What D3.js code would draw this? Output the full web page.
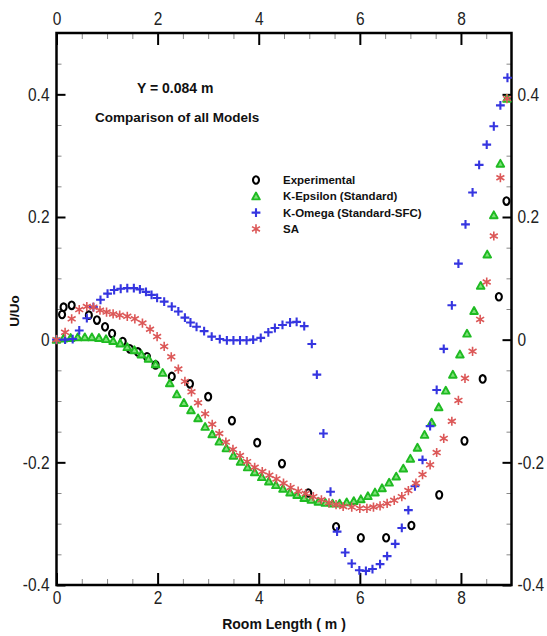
<!DOCTYPE html>
<html>
<head>
<meta charset="utf-8">
<script src="https://cdn.jsdelivr.net/npm/d3@7"></script>
<style>
  body { margin: 0; background: #fff; }
  svg { display: block; }
</style>
</head>
<body>
<svg id="chart" width="547" height="636"></svg>
<script>
// Measured profile (circles)
const expX = [0.11, 0.14, 0.30, 0.64, 0.80, 0.96, 1.10, 1.31, 1.45, 1.61, 1.79, 1.96, 2.28, 2.64, 3.00, 3.47, 3.97, 4.46, 4.98, 5.53, 6.02, 6.52, 7.02, 7.57, 8.07, 8.43, 8.75, 8.90];
const expY = [0.041, 0.053, 0.056, 0.040, 0.032, 0.021, 0.010, -0.003, -0.015, -0.020, -0.028, -0.041, -0.060, -0.072, -0.093, -0.132, -0.168, -0.202, -0.250, -0.305, -0.323, -0.323, -0.303, -0.253, -0.165, -0.064, 0.070, 0.226];

// K-Epsilon (Standard)
const keX = [0.00, 0.14, 0.28, 0.42, 0.56, 0.70, 0.84, 0.98, 1.12, 1.26, 1.40, 1.54, 1.68, 1.82, 1.96, 2.10, 2.24, 2.38, 2.52, 2.66, 2.80, 2.94, 3.08, 3.22, 3.36, 3.50, 3.64, 3.78, 3.92, 4.06, 4.20, 4.34, 4.48, 4.62, 4.76, 4.90, 5.04, 5.18, 5.32, 5.46, 5.60, 5.74, 5.88, 6.02, 6.16, 6.30, 6.44, 6.58, 6.72, 6.86, 7.00, 7.14, 7.28, 7.42, 7.56, 7.70, 7.84, 7.98, 8.12, 8.26, 8.39, 8.52, 8.65, 8.78, 8.91];
const keY = [0.000, 0.002, 0.003, 0.004, 0.004, 0.004, 0.003, 0.001, -0.002, -0.006, -0.012, -0.017, -0.024, -0.031, -0.040, -0.054, -0.071, -0.089, -0.103, -0.115, -0.128, -0.142, -0.154, -0.166, -0.177, -0.189, -0.199, -0.208, -0.216, -0.224, -0.231, -0.237, -0.243, -0.249, -0.253, -0.258, -0.261, -0.264, -0.266, -0.267, -0.267, -0.265, -0.263, -0.260, -0.255, -0.249, -0.242, -0.233, -0.223, -0.210, -0.194, -0.176, -0.155, -0.135, -0.110, -0.083, -0.057, -0.024, 0.010, 0.047, 0.088, 0.139, 0.203, 0.287, 0.393];

// K-Omega (Standard-SFC)
const kwX = [0.00, 0.17, 0.32, 0.45, 0.60, 0.73, 0.87, 1.01, 1.14, 1.27, 1.40, 1.53, 1.65, 1.77, 1.88, 1.99, 2.13, 2.28, 2.41, 2.54, 2.65, 2.77, 2.92, 3.07, 3.23, 3.37, 3.50, 3.63, 3.76, 3.89, 4.04, 4.19, 4.32, 4.47, 4.62, 4.75, 4.90, 5.05, 5.15, 5.28, 5.42, 5.55, 5.71, 5.84, 5.99, 6.12, 6.25, 6.40, 6.54, 6.70, 6.83, 6.96, 7.09, 7.24, 7.39, 7.52, 7.66, 7.82, 7.95, 8.09, 8.23, 8.36, 8.51, 8.65, 8.78, 8.92];
const kwY = [0.000, 0.000, 0.001, 0.015, 0.035, 0.053, 0.065, 0.075, 0.081, 0.083, 0.084, 0.084, 0.082, 0.078, 0.073, 0.068, 0.062, 0.054, 0.046, 0.036, 0.028, 0.021, 0.014, 0.005, 0.001, -0.001, -0.001, -0.001, -0.001, 0.000, 0.003, 0.012, 0.019, 0.024, 0.028, 0.029, 0.022, -0.007, -0.057, -0.153, -0.248, -0.313, -0.347, -0.365, -0.376, -0.377, -0.374, -0.366, -0.353, -0.333, -0.307, -0.278, -0.239, -0.196, -0.141, -0.082, -0.015, 0.056, 0.124, 0.188, 0.240, 0.285, 0.318, 0.348, 0.382, 0.427];

// SA
const saX = [0.00, 0.17, 0.30, 0.45, 0.60, 0.73, 0.86, 0.99, 1.12, 1.25, 1.40, 1.55, 1.70, 1.85, 1.99, 2.13, 2.27, 2.41, 2.54, 2.67, 2.80, 2.94, 3.08, 3.22, 3.35, 3.49, 3.63, 3.77, 3.92, 4.07, 4.21, 4.35, 4.49, 4.63, 4.78, 4.93, 5.08, 5.24, 5.39, 5.53, 5.67, 5.84, 6.00, 6.14, 6.27, 6.40, 6.54, 6.68, 6.83, 6.96, 7.11, 7.24, 7.39, 7.52, 7.66, 7.82, 7.95, 8.08, 8.23, 8.38, 8.51, 8.65, 8.78, 8.91];
const saY = [0.000, 0.012, 0.034, 0.049, 0.054, 0.053, 0.048, 0.045, 0.042, 0.040, 0.038, 0.034, 0.027, 0.017, 0.005, -0.011, -0.028, -0.048, -0.068, -0.085, -0.103, -0.121, -0.138, -0.153, -0.167, -0.179, -0.189, -0.199, -0.208, -0.215, -0.221, -0.227, -0.234, -0.241, -0.247, -0.251, -0.256, -0.261, -0.266, -0.269, -0.272, -0.273, -0.275, -0.275, -0.273, -0.271, -0.267, -0.262, -0.256, -0.246, -0.234, -0.220, -0.204, -0.184, -0.161, -0.133, -0.099, -0.063, -0.019, 0.033, 0.094, 0.169, 0.264, 0.393];

const xMajor = [0, 2, 4, 6, 8];
const xMinor = [0.5, 1, 1.5, 2.5, 3, 3.5, 4.5, 5, 5.5, 6.5, 7, 7.5, 8.5];
const yMajor = [-0.4, -0.2, 0, 0.2, 0.4];
const yMinor = [-0.35, -0.3, -0.25, -0.15, -0.1, -0.05, 0.05, 0.1, 0.15, 0.25, 0.3, 0.35, 0.45];

const seriesNames = ["Experimental", "K-Epsilon (Standard)", "K-Omega (Standard-SFC)", "SA"];
const titleLines = ["Y = 0.084 m", "Comparison of all Models"];
const xTitle = "Room Length ( m )";
const yTitle = "U/Uo";

const svg = d3.select("#chart");
const x = d3.scaleLinear().domain([0, 9]).range([56.5, 511.5]);
const y = d3.scaleLinear().domain([-0.4, 0.5]).range([585, 33]);
const [x0, x1] = x.range();
const [yb, yt] = y.range();

const tickFont = "'Liberation Sans', Arial, sans-serif";
const boldFont = "'Liberation Sans', Arial, sans-serif";
const squeeze = 0.86; // tick labels are set in a narrow face

// ---- markers ----
const markers = {
  circle: g => g.append("ellipse").attr("rx", 3).attr("ry", 3.8)
      .attr("fill", "none").attr("stroke", "#000").attr("stroke-width", 2.1),
  triangle: g => g.append("path").attr("d", "M0,-3.8L3.8,3.1L-3.8,3.1Z")
      .attr("fill", "#7fe07a").attr("stroke", "#1fbb22").attr("stroke-width", 1.9)
      .attr("stroke-linejoin", "round"),
  plus: g => g.append("path").attr("d", "M-4.4,0H4.4M0,-4.4V4.4")
      .attr("stroke", "#3535e0").attr("stroke-width", 2.1).attr("fill", "none"),
  asterisk: g => g.append("path")
      .attr("d", (() => {
        const r = 4.6; let d = "";
        [90, 30, 150].forEach(a => {
          const t = a * Math.PI / 180, c = Math.cos(t) * r, s = Math.sin(t) * r;
          d += `M${-c},${s}L${c},${-s}`;
        });
        return d;
      })())
      .attr("stroke", "#dc5858").attr("stroke-width", 1.6).attr("fill", "none")
};

const series = [
  { xs: expX, ys: expY, mark: "circle" },
  { xs: keX, ys: keY, mark: "triangle" },
  { xs: kwX, ys: kwY, mark: "plus" },
  { xs: saX, ys: saY, mark: "asterisk" }
];

// ---- axes ----
function styleAxis(g) {
  g.select(".domain").remove();
  g.selectAll(".tick line").attr("stroke", "#000").attr("stroke-width", 2);
  g.selectAll(".tick text").each(function () {
    const t = d3.select(this);
    const tx = +t.attr("x") || 0;
    t.attr("x", tx / squeeze).attr("transform", `scale(${squeeze},1)`);
  });
  g.selectAll("text").attr("font-family", tickFont).attr("font-size", 18).attr("fill", "#222");
}
const fmt = d => String(d);

svg.append("g").attr("transform", `translate(0,${yb})`)
  .call(d3.axisBottom(x).tickValues(xMajor).tickSize(-12).tickPadding(6).tickFormat(fmt))
  .call(styleAxis);
svg.append("g").attr("transform", `translate(0,${yt})`)
  .call(d3.axisTop(x).tickValues(xMajor).tickSize(-12).tickPadding(8).tickFormat(fmt))
  .call(styleAxis);
svg.append("g").attr("transform", `translate(${x0},0)`)
  .call(d3.axisLeft(y).tickValues(yMajor).tickSize(-9).tickPadding(7).tickFormat(fmt))
  .call(styleAxis);
svg.append("g").attr("transform", `translate(${x1},0)`)
  .call(d3.axisRight(y).tickValues(yMajor).tickSize(-9).tickPadding(6).tickFormat(fmt))
  .call(styleAxis);

// minor ticks
const minorStyle = g => { g.select(".domain").remove(); g.selectAll(".tick line").attr("stroke", "#888").attr("stroke-width", 1); };
svg.append("g").attr("transform", `translate(0,${yb})`)
  .call(d3.axisBottom(x).tickValues(xMinor).tickSize(-6).tickFormat("")).call(minorStyle);
svg.append("g").attr("transform", `translate(0,${yt})`)
  .call(d3.axisTop(x).tickValues(xMinor).tickSize(-6).tickFormat("")).call(minorStyle);
svg.append("g").attr("transform", `translate(${x0},0)`)
  .call(d3.axisLeft(y).tickValues(yMinor).tickSize(-5).tickFormat("")).call(minorStyle);
svg.append("g").attr("transform", `translate(${x1},0)`)
  .call(d3.axisRight(y).tickValues(yMinor).tickSize(-5).tickFormat("")).call(minorStyle);

// frame
svg.append("rect").attr("x", x0).attr("y", yt).attr("width", x1 - x0).attr("height", yb - yt)
  .attr("fill", "none").attr("stroke", "#000").attr("stroke-width", 2.5);

// ---- data points ----
const plot = svg.append("g");
series.forEach(s => {
  const pts = s.xs.map((v, i) => [v, s.ys[i]]);
  plot.append("g").selectAll("g").data(pts).join("g")
    .attr("transform", d => `translate(${x(d[0])},${y(d[1])})`)
    .each(function () { markers[s.mark](d3.select(this)); });
});

// ---- titles ----
svg.append("text").attr("x", 137).attr("y", 93).text(titleLines[0])
  .attr("font-family", boldFont).attr("font-weight", "bold").attr("font-size", 14).attr("fill", "#111");
svg.append("text").attr("x", 95).attr("y", 122).text(titleLines[1])
  .attr("font-family", boldFont).attr("font-weight", "bold").attr("font-size", 13.5).attr("fill", "#111");

// ---- legend ----
const legend = svg.append("g").attr("transform", "translate(256,180)");
series.forEach((s, i) => {
  const row = legend.append("g").attr("transform", `translate(0,${i * 16.3})`);
  markers[s.mark](row);
  row.append("text").attr("x", 27).attr("dy", "0.35em").text(seriesNames[i])
    .attr("font-family", boldFont).attr("font-weight", "bold").attr("font-size", 11.5).attr("fill", "#111");
});

// ---- axis titles ----
svg.append("text").attr("x", (x0 + x1) / 2).attr("y", 629).attr("text-anchor", "middle")
  .text(xTitle).attr("font-family", boldFont).attr("font-weight", "bold").attr("font-size", 14).attr("fill", "#111");
svg.append("text").attr("transform", "translate(19,311) rotate(-90)").attr("text-anchor", "middle")
  .text(yTitle).attr("font-family", boldFont).attr("font-weight", "bold").attr("font-size", 13.5).attr("fill", "#111");
</script>
</body>
</html>
